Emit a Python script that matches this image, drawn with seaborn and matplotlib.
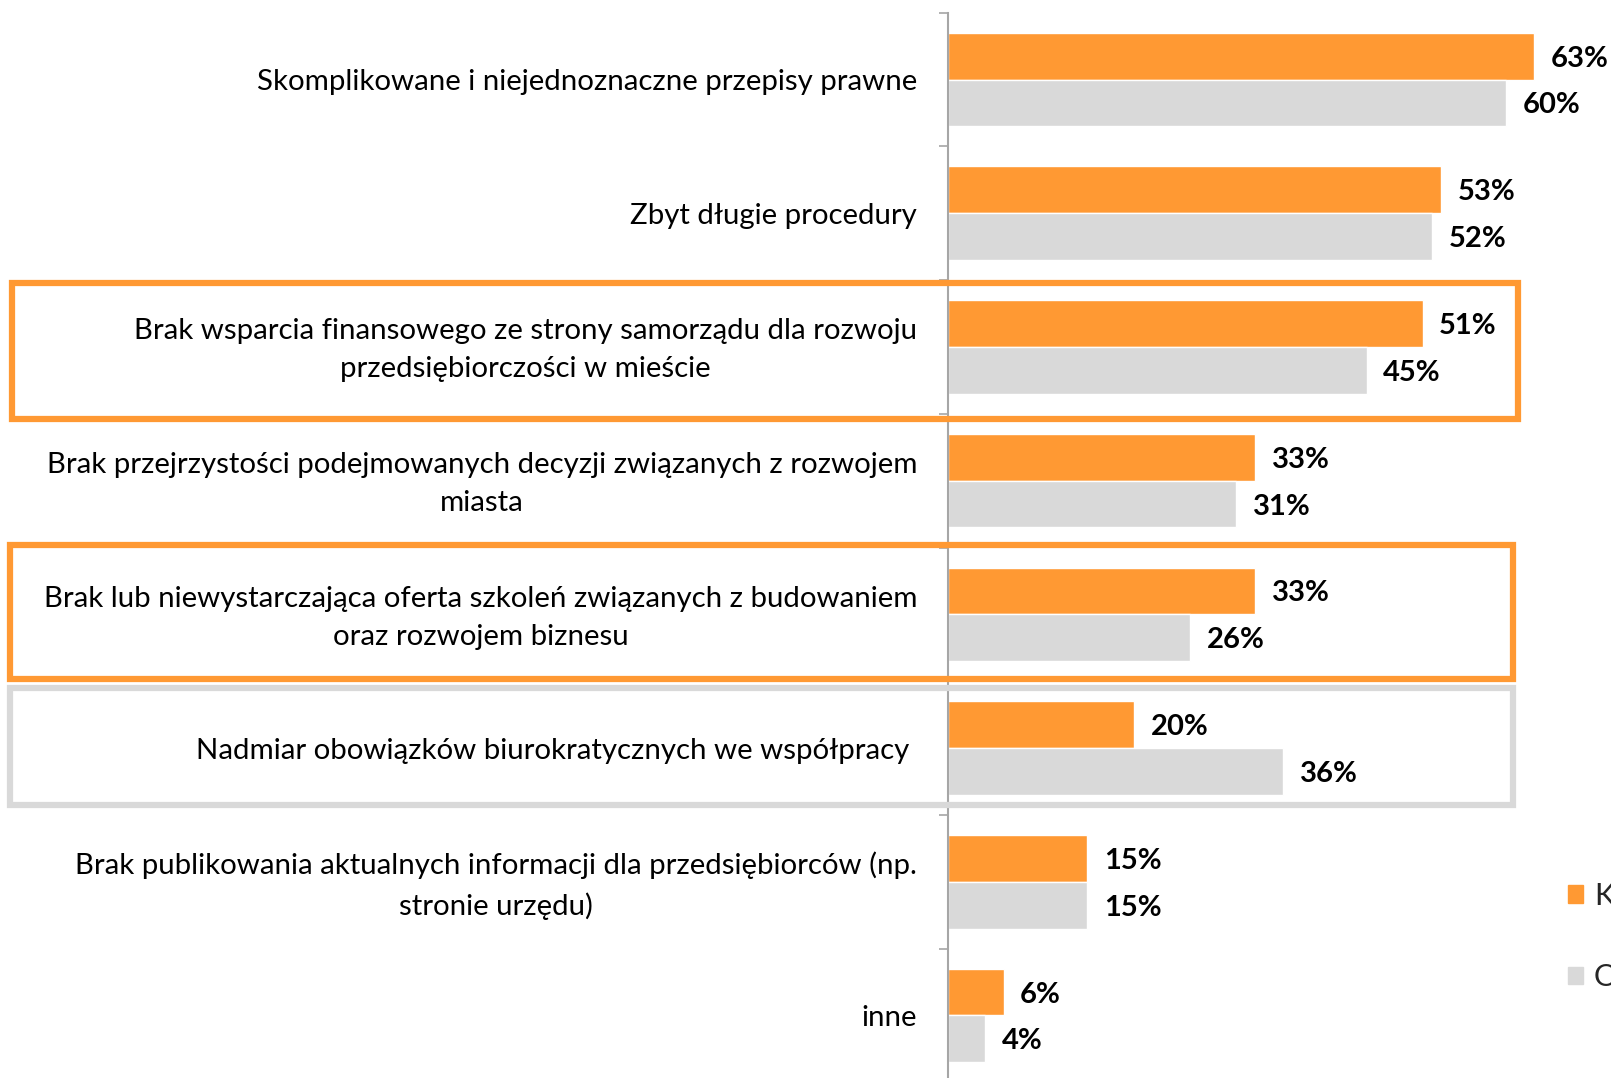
import matplotlib
matplotlib.use("Agg")
import matplotlib.pyplot as plt
from matplotlib.patches import Rectangle
from matplotlib.transforms import ScaledTranslation
import seaborn as sns
import pandas as pd
import numpy as np

categories = [
    "Skomplikowane i niejednoznaczne przepisy prawne",
    "Zbyt długie procedury",
    "Brak wsparcia finansowego ze strony samorządu dla rozwoju\nprzedsiębiorczości w mieście",
    "Brak przejrzystości podejmowanych decyzji związanych z rozwojem\nmiasta",
    "Brak lub niewystarczająca oferta szkoleń związanych z budowaniem\noraz rozwojem biznesu",
    "Nadmiar obowiązków biurokratycznych we współpracy ",
    "Brak publikowania aktualnych informacji dla przedsiębiorców (np.\nstronie urzędu)",
    "inne",
]
series_names = ["Katowice", "Ogółem"]
values_first = [63, 53, 51, 33, 33, 20, 15, 6]
values_second = [60, 52, 45, 31, 26, 36, 15, 4]

colors = ["#FF9933", "#D9D9D9"]

df = pd.DataFrame({
    "cat": categories * 2,
    "series": [series_names[0]] * len(categories) + [series_names[1]] * len(categories),
    "val": values_first + values_second,
})

sns.set_style("white")
plt.rcParams["font.family"] = ["Lato", "DejaVu Sans"]

W, H = 1611, 1078
fig = plt.figure(figsize=(W / 100, H / 100), dpi=100)
ax_left = 947.7 / W
ax_top = 12.7
ax_h = 8 * 133.7
ax = fig.add_axes([ax_left, (H - ax_top - ax_h) / H, 1 - ax_left, ax_h / H])

sns.barplot(data=df, y="cat", x="val", hue="series", order=categories,
            hue_order=series_names, palette=colors, saturation=1, orient="h", width=0.7,
            edgecolor="white", linewidth=1.0, ax=ax, legend=False)

ax.set_xlim(0, (W - 947.7) / 9.31)
ax.set_ylim(7.5, -0.5)
ax.set_xlabel("")
ax.set_ylabel("")
ax.set_xticks([])
for s in ["top", "right", "bottom"]:
    ax.spines[s].set_visible(False)
ax.spines["left"].set_color("#A6A6A6")
ax.spines["left"].set_linewidth(1.5)

ax.set_yticks(range(len(categories)))
ax.set_yticklabels(categories, fontsize=21.2, color="#000000",
                   multialignment="center", linespacing=1.57)
ax.tick_params(axis="y", which="major", length=0, pad=22)
ax.set_yticks(np.arange(-0.5, len(categories), 1.0), minor=True)
ax.tick_params(axis="y", which="minor", length=6.5, width=1.2, color="#A6A6A6", left=True)

for lab in ax.get_yticklabels():
    if "\n" in lab.get_text():
        lab.set_transform(lab.get_transform() + ScaledTranslation(0, 5 / 100, fig.dpi_scale_trans))

for cont in ax.containers:
    texts = ax.bar_label(cont, labels=[f"{v:.0f}%" for v in cont.datavalues], padding=12,
                         fontsize=21, fontweight="bold", color="#000000")
    for t in texts:
        t.set_va("center_baseline")

handles = [Rectangle((0, 0), 1, 1, color=c) for c in colors]
fig.legend(handles, series_names, loc="upper left", bbox_transform=fig.transFigure,
           bbox_to_anchor=(1568 / W, 1 - 882 / H), frameon=False, fontsize=22,
           handlelength=0.5, handleheight=0.5, handletextpad=0.35, labelspacing=1.75,
           borderaxespad=0, borderpad=0)

# highlight boxes (figure pixel coordinates, y from top)
boxes = [
    (12.3, 282.5, 1517.5, 419.0, "#FF9933"),
    (10.3, 544.5, 1513.0, 679.0, "#FF9933"),
    (10.3, 688.0, 1513.0, 804.5, "#D9D9D9"),
]
for x0, y0, x1, y1, c in boxes:
    fig.add_artist(Rectangle((x0 / W, 1 - y1 / H), (x1 - x0) / W, (y1 - y0) / H,
                             transform=fig.transFigure, fill=False, edgecolor=c,
                             linewidth=4.5, zorder=10))

fig.savefig("out.png", dpi=100)
